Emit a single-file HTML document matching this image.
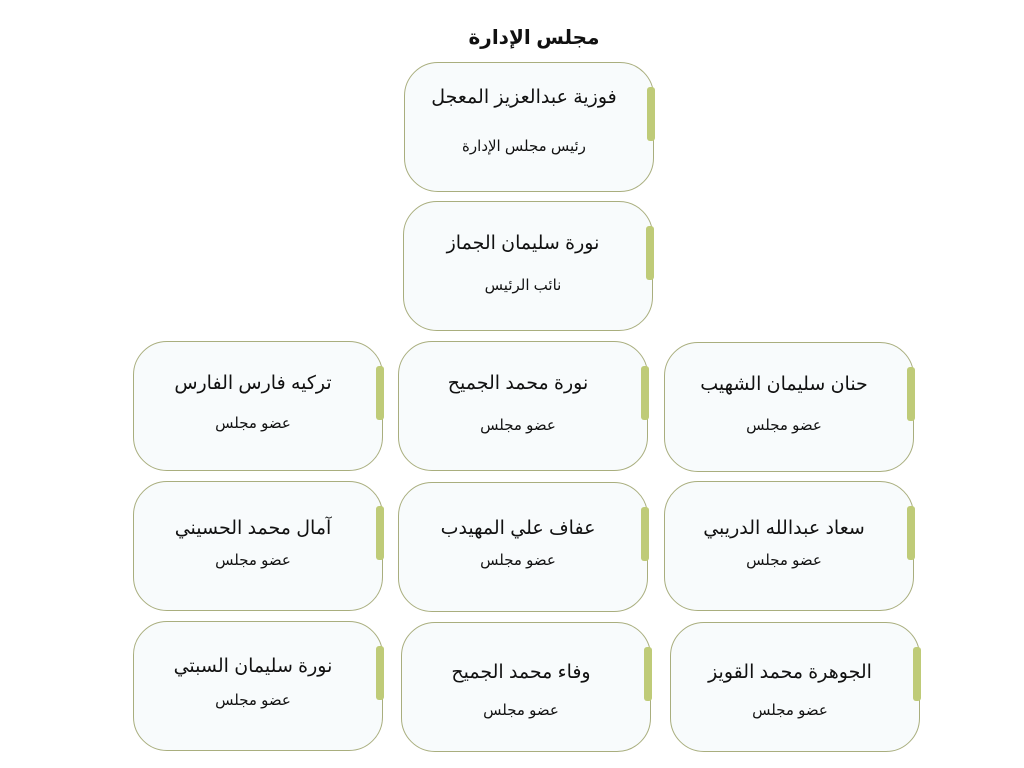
<!DOCTYPE html>
<html><head><meta charset="utf-8"><style>
body{margin:0;width:1024px;height:768px;background:#fff;position:relative;overflow:hidden;font-family:"Liberation Sans","Noto Sans CJK SC","DejaVu Sans",sans-serif;color:#111}
.b{position:absolute;width:250px;height:130px;box-sizing:border-box;border:1px solid #a9ae7e;border-radius:34px;background:#f8fbfc}
.bar{position:absolute;right:-2px;top:24px;width:8px;height:54px;background:#bfcb78;border-radius:3px}
.n,.s{position:absolute;left:0;right:10px;text-align:center;direction:rtl;white-space:nowrap;line-height:1}
.n{font-size:19px}
.s{font-size:15px}
.t{position:absolute;left:0;width:1068px;top:25px;text-align:center;font-weight:bold;font-size:20px;direction:rtl}
</style></head><body>
<div class="t">مجلس الإدارة</div>

<div class="b" style="left:404px;top:62px"><div class="bar"></div><div class="n" style="top:25px">فوزية عبدالعزيز المعجل</div><div class="s" style="top:76px">رئيس مجلس الإدارة</div></div>
<div class="b" style="left:403px;top:201px"><div class="bar"></div><div class="n" style="top:32px">نورة سليمان الجماز</div><div class="s" style="top:76px">نائب الرئيس</div></div>

<div class="b" style="left:133px;top:341px"><div class="bar"></div><div class="n" style="top:32px">تركيه فارس الفارس</div><div class="s" style="top:74px">عضو مجلس</div></div>
<div class="b" style="left:398px;top:341px"><div class="bar"></div><div class="n" style="top:32px">نورة محمد الجميح</div><div class="s" style="top:76px">عضو مجلس</div></div>
<div class="b" style="left:664px;top:342px"><div class="bar"></div><div class="n" style="top:32px">حنان سليمان  الشهيب</div><div class="s" style="top:75px">عضو مجلس</div></div>

<div class="b" style="left:133px;top:481px"><div class="bar"></div><div class="n" style="top:37px">آمال محمد الحسيني</div><div class="s" style="top:71px">عضو مجلس</div></div>
<div class="b" style="left:398px;top:482px"><div class="bar"></div><div class="n" style="top:36px">عفاف علي المهيدب</div><div class="s" style="top:70px">عضو مجلس</div></div>
<div class="b" style="left:664px;top:481px"><div class="bar"></div><div class="n" style="top:37px">سعاد عبدالله الدريبي</div><div class="s" style="top:71px">عضو مجلس</div></div>

<div class="b" style="left:133px;top:621px"><div class="bar"></div><div class="n" style="top:35px">نورة سليمان السبتي</div><div class="s" style="top:71px">عضو مجلس</div></div>
<div class="b" style="left:401px;top:622px"><div class="bar"></div><div class="n" style="top:40px">وفاء محمد الجميح</div><div class="s" style="top:80px">عضو مجلس</div></div>
<div class="b" style="left:670px;top:622px"><div class="bar"></div><div class="n" style="top:40px">الجوهرة محمد القويز</div><div class="s" style="top:80px">عضو مجلس</div></div>
</body></html>
